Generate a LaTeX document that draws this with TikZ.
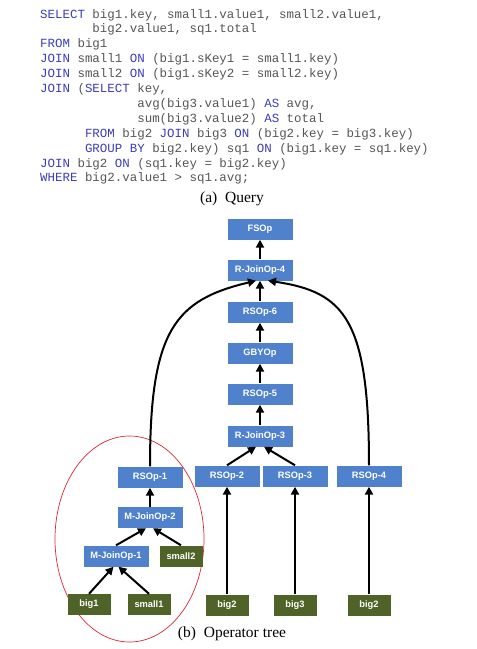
\documentclass[tikz,border=0pt]{standalone}
\usepackage{fontspec}
\setmainfont{Liberation Serif}
\setsansfont{Liberation Sans}
\setmonofont{Liberation Mono}
\usetikzlibrary{arrows.meta}
\definecolor{opblue}{RGB}{79,129,205}
\definecolor{tblgreen}{RGB}{79,98,40}
\definecolor{kw}{RGB}{60,60,190}
\definecolor{codegray}{RGB}{85,85,85}
\definecolor{ellred}{RGB}{220,40,50}
\newcommand{\kwd}[1]{\textcolor{kw}{#1}}
\begin{document}
\begin{tikzpicture}[x=1pt,y=-1pt,
  op/.style={fill=opblue, text=white, font=\sffamily\bfseries\fontsize{9.3}{10}\selectfont, minimum width=65pt, minimum height=21pt, inner sep=0},
  tbl/.style={op, fill=tblgreen, minimum width=43pt},
  arr/.style={line width=2pt, -{Triangle[length=8pt,width=8pt]}},
  codeline/.style={anchor=base west, inner sep=0, font=\ttfamily\fontsize{12.45}{15}\selectfont, text=codegray},
  captext/.style={font=\fontsize{15.5}{18}\selectfont, anchor=base, inner sep=0}]
\useasboundingbox (0,0) rectangle (477,649);

% code
\node[codeline] (c1) at (40,18) {\kwd{SELECT} big1.key, small1.value1, small2.value1,};
\node[codeline] (c2) at (40,32.9) {~~~~~~~big2.value1, sq1.total};
\node[codeline] (c3) at (40,47.8) {\kwd{FROM} big1};
\node[codeline] (c4) at (40,62.7) {\kwd{JOIN} small1 \kwd{ON} (big1.sKey1 = small1.key)};
\node[codeline] (c5) at (40,77.6) {\kwd{JOIN} small2 \kwd{ON} (big1.sKey2 = small2.key)};
\node[codeline] (c6) at (40,92.5) {\kwd{JOIN} (\kwd{SELECT} key,};
\node[codeline] (c7) at (40,107.4) {~~~~~~~~~~~~~avg(big3.value1) \kwd{AS} avg,};
\node[codeline] (c8) at (40,122.3) {~~~~~~~~~~~~~sum(big3.value2) \kwd{AS} total};
\node[codeline] (c9) at (40,137.2) {~~~~~~\kwd{FROM} big2 \kwd{JOIN} big3 \kwd{ON} (big2.key = big3.key)};
\node[codeline] (c10) at (40,152.1) {~~~~~~\kwd{GROUP BY} big2.key) sq1 \kwd{ON} (big1.key = sq1.key)};
\node[codeline] (c11) at (40,167) {\kwd{JOIN} big2 \kwd{ON} (sq1.key = big2.key)};
\node[codeline] (c12) at (40,181.9) {\kwd{WHERE} big2.value1 > sq1.avg;};
\node[captext] (capa) at (232,202) {(a)\hspace{0.5em}Query};

% ellipse
\draw[ellred, line width=0.7pt] (129.5,539) ellipse [x radius=74.5pt, y radius=103pt];

% operator nodes
\node[op] (fs) at (260,229) {FSOp};
\node[op] (rj4) at (260,270) {R-JoinOp-4};
\node[op] (rs6) at (260,312) {RSOp-6};
\node[op] (gby) at (260,353) {GBYOp};
\node[op] (rs5) at (260,394) {RSOp-5};
\node[op] (rj3) at (260,436) {R-JoinOp-3};
\node[op] (rs1) at (150,477) {RSOp-1};
\node[op] (rs2) at (227,476) {RSOp-2};
\node[op] (rs3) at (295,476) {RSOp-3};
\node[op] (rs4) at (369,476) {RSOp-4};
\node[op] (mj2) at (150,517.5) {M-JoinOp-2};
\node[op] (mj1) at (116,556) {M-JoinOp-1};
\node[tbl] (sm2) at (181,556) {small2};
\node[tbl] (bg1) at (89,604.5) {big1};
\node[tbl] (sm1) at (149,604.5) {small1};
\node[tbl] (bg2a) at (227,605) {big2};
\node[tbl] (bg3) at (295,605) {big3};
\node[tbl] (bg2b) at (369,605) {big2};
\node[captext] (capb) at (232,637) {(b)\hspace{0.5em}Operator tree};

% connectors
\draw[arr] (rj4) -- (fs);
\draw[arr] (rs6) -- (rj4);
\draw[arr] (gby) -- (rs6);
\draw[arr] (rs5) -- (gby);
\draw[arr] (rj3) -- (rs5);
\draw[arr] (rs2.north) -- ([xshift=-4pt]rj3.south);
\draw[arr] (rs3.north) -- ([xshift=4pt]rj3.south);
\draw[arr] (bg2a) -- (rs2);
\draw[arr] (bg3) -- (rs3);
\draw[arr] (bg2b) -- (rs4);
\draw[arr] (mj2) -- (rs1);
\draw[arr] (mj1.north) -- ([xshift=-4pt]mj2.south);
\draw[arr] (sm2.north) -- ([xshift=3pt]mj2.south);
\draw[arr] (bg1.north) -- ([xshift=-2.5pt]mj1.south);
\draw[arr] (sm1.north) -- ([xshift=2.5pt]mj1.south);
\draw[arr] (rs1.north) .. controls (150,330) and (175,300) .. ([xshift=-4pt]rj4.south);
\draw[arr] (rs4.north) .. controls (369,320) and (345,292) .. ([xshift=8pt]rj4.south);
\end{tikzpicture}
\end{document}
